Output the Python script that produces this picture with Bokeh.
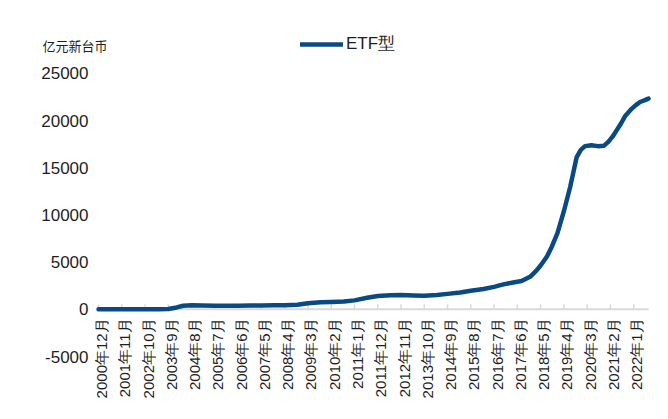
import math
from bokeh.plotting import figure
from bokeh.models import Range1d, Label, Legend, LegendItem, ColumnDataSource
from bokeh.core.properties import value
from bokeh.embed import file_html
from bokeh.resources import INLINE

# ---- data ----
months = ["2000-12", "2001-06", "2001-11", "2002-05", "2002-10", "2003-04", "2003-09",
          "2004-01", "2004-04", "2004-08", "2005-01", "2005-07", "2006-01", "2006-06",
          "2006-12", "2007-05", "2007-11", "2008-04", "2008-10", "2009-03", "2009-09",
          "2010-02", "2010-08", "2011-01", "2011-07", "2011-12", "2012-06", "2012-11",
          "2013-05", "2013-10", "2014-04", "2014-09", "2015-03", "2015-08", "2016-02",
          "2016-07", "2016-10", "2017-01", "2017-04", "2017-08", "2017-12", "2018-03",
          "2018-05", "2018-08", "2018-10", "2019-01", "2019-04", "2019-07", "2019-10",
          "2019-12", "2020-02", "2020-05", "2020-08", "2020-11", "2021-01", "2021-03",
          "2021-05", "2021-07", "2021-09", "2021-12", "2022-02", "2022-04", "2022-06",
          "2022-08"]
etf = [0, 0, 0, 0, 0, 0, 30,
       200, 380, 420, 400, 380, 380, 390,
       400, 410, 420, 430, 480, 640, 760,
       780, 830, 950, 1220, 1410, 1500, 1510,
       1470, 1440, 1520, 1640, 1790, 1960, 2160,
       2380, 2560, 2720, 2850, 3000, 3450, 4100,
       4650, 5600, 6500, 8100, 10400, 13000, 16100,
       16900, 17300, 17400, 17300, 17350, 17750, 18300,
       19000, 19700, 20500, 21250, 21650, 21980, 22150,
       22340]

tick_labels = ["2000年12月", "2001年11月", "2002年10月", "2003年9月", "2004年8月",
               "2005年7月", "2006年6月", "2007年5月", "2008年4月", "2009年3月",
               "2010年2月", "2011年1月", "2011年12月", "2012年11月", "2013年10月",
               "2014年9月", "2015年8月", "2016年7月", "2017年6月", "2018年5月",
               "2019年4月", "2020年3月", "2021年2月", "2022年1月"]
y_ticks = [-5000, 0, 5000, 10000, 15000, 20000, 25000]
y_tick_labels = ["-5000", "0", "5000", "10000", "15000", "20000", "25000"]
series_name = "ETF型"
unit_text = "亿元新台币"


def month_index(y, m):
    return (y - 2000) * 12 + m - 12


x = [month_index(int(s[:4]), int(s[5:7])) for s in months]
tick_x = []
for t in tick_labels:
    yr = int(t[:4])
    mo = int(t[5:t.index("月")])
    tick_x.append(month_index(yr, mo))

LINE_COLOR = "#0a4a84"
TEXT_COLOR = "#1e1e1e"
AXIS_COLOR = "#d9d9d9"
FONT = "Liberation Sans"

W, H = 652, 403
X0, X1 = -46.33, 261.89
Y0, Y1 = -9982, 32738
MPX = (X1 - X0) / W      # x data units per pixel
UPX = (Y1 - Y0) / H      # y data units per pixel

p = figure(width=W, height=H, output_backend="svg", toolbar_location=None,
           x_range=Range1d(X0, X1), y_range=Range1d(Y0, Y1),
           min_border_left=0, min_border_right=0, min_border_top=0, min_border_bottom=0,
           x_axis_location=None, y_axis_location=None)
p.outline_line_color = None
p.grid.visible = False
p.background_fill_color = "white"
p.border_fill_color = "white"

# zero axis line with tick marks
p.segment(x0=[tick_x[0]], y0=[0], x1=[x[-1]], y1=[0], line_color=AXIS_COLOR, line_width=2)
p.ray(x=tick_x, y=[0] * len(tick_x), length=5, length_units="screen",
      angle=math.pi / 2, line_color=AXIS_COLOR, line_width=1.5)

src = ColumnDataSource(dict(x=x, y=etf))
r = p.line("x", "y", source=src, line_width=4.5, line_color=LINE_COLOR,
           line_join="round", line_cap="round")

# y tick labels, 10 px left of the axis start
ylab_x = tick_x[0] - 10 * MPX
p.text(x=[ylab_x] * len(y_ticks), y=y_ticks, text=y_tick_labels,
       text_align="right", text_baseline="middle",
       text_font_size="17px", text_font=value(FONT), text_color=TEXT_COLOR)

# x tick labels, rotated, 9 px below the zero line
xlab_x = [t + 3 * MPX for t in tick_x]
p.text(x=xlab_x, y=[-9 * UPX] * len(tick_x), text=tick_labels, angle=math.pi / 2,
       text_align="right", text_baseline="middle",
       text_font_size="15px", text_font=value(FONT), text_color=TEXT_COLOR)

legend = Legend(items=[LegendItem(label=series_name, renderers=[r])],
                location=(300, 348), orientation="horizontal",
                glyph_width=43, glyph_height=20, label_height=20,
                padding=0, margin=0, spacing=0, label_standoff=3,
                border_line_color=None, background_fill_alpha=0,
                label_text_font_size="17px", label_text_font=FONT,
                label_text_color=TEXT_COLOR)
p.add_layout(legend)

unit = Label(x=42, y=358, x_units="screen", y_units="screen", text=unit_text,
             text_font_size="13px", text_baseline="middle",
             text_font="Noto Sans CJK SC", text_color=TEXT_COLOR)
p.add_layout(unit)

open("out.html", "w").write(file_html(p, INLINE))
